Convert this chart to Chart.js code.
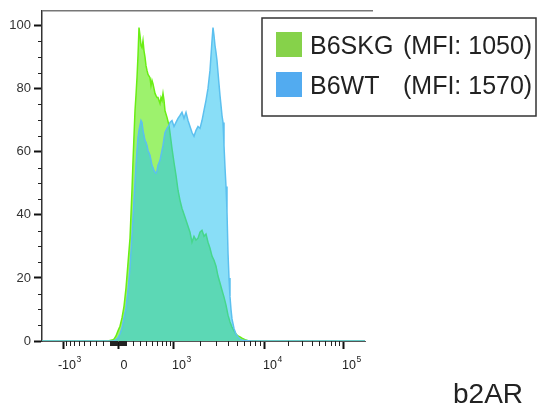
<!DOCTYPE html>
<html>
<head>
<meta charset="utf-8">
<script src="https://cdn.jsdelivr.net/npm/chart.js@4.4.1/dist/chart.umd.min.js"></script>
<style>
  html, body { margin: 0; padding: 0; background: #fff; }
  #chartBox { width: 542px; height: 410px; }
</style>
</head>
<body>
<div id="chartBox"><canvas id="chartCanvas" width="542" height="410"></canvas></div>
<script>
// Histogram bins: display channel on the b2AR axis and % of max
const greenChannels = [0, 66, 70, 72, 74, 76, 78, 80, 82, 84, 86, 88, 90, 91, 92, 93, 94, 95, 96, 97, 98, 99,
    100, 101, 102, 103, 104, 105, 106, 108, 109, 110, 111, 112, 113, 114, 115, 116, 118, 119, 120, 121, 122,
    123, 125, 127, 128, 130, 132, 134, 136, 138, 140, 142, 144, 146, 148, 150, 152, 154, 156, 158, 160, 162,
    164, 166, 168, 170, 172, 174, 176, 178, 180, 182, 184, 186, 188, 190, 192, 194, 196, 198, 200, 202, 204,
    206, 210, 323];
const greenCounts = [0, 0, 0.3, 0.6, 1.6, 3.2, 4.7, 7.3, 11, 16.8, 24.7, 32.6, 48, 57, 65, 73, 78, 83.5, 90.5, 99.4,
    96.8, 93.7, 93, 95.2, 92, 90, 87.3, 85.8, 84.5, 83.5, 81, 82.6, 81.5, 80, 78.5, 77.8, 77.2, 77.2, 75.3, 77.2,
    76.3, 78.5, 76.3, 73, 70.9, 68.4, 66, 61, 56.6, 52.5, 47.8, 44.6, 42, 40.2, 38.3, 36.4, 34.5, 31.3, 33.2, 32,
    32.6, 34.5, 35.1, 33.2, 33.9, 31.3, 29.4, 26.9, 25.6, 23.7, 20.6, 18.4, 16.1, 13.9, 11.4, 8.2, 6, 4.4, 3.2,
    2.2, 1.6, 1.3, 0.9, 0.6, 0.3, 0.1, 0, 0];

const blueChannels = [0, 66, 72, 74, 76, 78, 80, 82, 84, 86, 88, 90, 92, 94, 95, 96, 97, 98, 99, 100, 101, 102,
    103, 104, 105, 106, 108, 109, 110, 111, 112, 113, 114, 115, 116, 118, 119, 120, 121, 122, 123, 125, 127, 128,
    130, 132, 134, 136, 138, 140, 142, 144, 146, 148, 150, 152, 154, 156, 158, 160, 162, 164, 166, 168, 169, 170,
    171, 172, 173, 174, 175, 176, 178, 179, 180, 181, 182, 183, 184, 185, 186, 187, 188, 189, 190, 192, 194, 196,
    198, 200, 202, 206, 210, 323];
const blueCounts = [0, 0, 0.1, 0.4, 1, 2.2, 4.1, 7.3, 10.4, 16.1, 23.1, 33.5, 44.6, 55.7, 60.4, 64.6, 66.8, 68.4,
    69.9, 69.3, 66.8, 65.2, 63.6, 63, 62, 60.4, 58.9, 57.3, 55.7, 55, 54.1, 53.5, 53.2, 54.1, 55.7, 57.3, 58.9,
    60.4, 62, 64.2, 66.1, 67.4, 68.4, 69.3, 69.9, 68, 69.3, 70.6, 71.5, 72.5, 70.6, 72.5, 69.9, 68, 66.1, 64.9,
    66.8, 68, 67.4, 69.9, 73.1, 76.3, 80.1, 85.8, 90.5, 95.2, 99.4, 96.8, 93.7, 91.5, 88.9, 85.1, 77.8, 74.7,
    71.5, 69.3, 62, 55, 49, 41, 28, 20, 14, 10, 7, 4, 2.2, 1.3, 0.6, 0.3, 0.2, 0.1, 0, 0];

// Legend entries
const seriesNames = ['B6SKG', 'B6WT'];
const seriesMfi = [1050, 1570];

// Axis ticks (x labels are base + exponent)
const xMajorValues = [-1000, 0, 1000, 10000, 100000];
const xLabelBases = ['-10', '0', '10', '10', '10'];
const xLabelExps = ['3', '', '3', '4', '5'];
const yMajorValues = [0, 20, 40, 60, 80, 100];
const axisTitle = 'b2AR';

const FONT = "'Liberation Sans', Arial, sans-serif";

// Biexponential-like display transform: raw value -> display channel
function toChannel(v) {
    if (Math.abs(v) <= 1000) {
        return 76 + 55 * Math.asinh(v / 478) / Math.asinh(1000 / 478);
    }
    const lg = Math.log10(v);
    if (lg <= 4) return 131 + (lg - 3) * 91;
    return 222 + (lg - 4) * 79;
}

// Minor tick values for the x axis
function xMinorValues() {
    let out = [];
    for (let i = 1; i <= 9; i++) {
        out.push(i * 10, -i * 10, i * 100, -i * 100);
        if (i > 1) out.push(i * 1000, i * 10000);
    }
    return out;
}

function toPoints(xs, ys) {
    return xs.map((x, i) => ({ x: x, y: ys[i] }));
}

// Plugin: minor ticks, x labels with exponents, top frame line, boxed legend and axis title
const flowDecor = {
    id: 'flowDecor',
    afterDraw(chart) {
        try {
            const ctx = chart.ctx;
            const area = chart.chartArea;
            const xs = chart.scales.x;
            const ys = chart.scales.y;
            ctx.save();

            // top frame line
            ctx.strokeStyle = '#777';
            ctx.lineWidth = 1.5;
            ctx.beginPath();
            ctx.moveTo(area.left, area.top);
            ctx.lineTo(area.right + 8, area.top);
            ctx.stroke();

            // minor ticks
            ctx.strokeStyle = '#222';
            ctx.lineWidth = 1;
            ctx.beginPath();
            xMinorValues().forEach(v => {
                const px = Math.round(xs.getPixelForValue(toChannel(v))) + 0.5;
                if (px < area.left || px > area.right) return;
                ctx.moveTo(px, area.bottom);
                ctx.lineTo(px, area.bottom + 5);
            });
            for (let v = 5; v <= 100; v += 5) {
                if (v % 20 === 0) continue;
                const py = Math.round(ys.getPixelForValue(v)) + 0.5;
                ctx.moveTo(area.left - 4, py);
                ctx.lineTo(area.left, py);
            }
            ctx.stroke();

            // x tick labels: base text then raised exponent
            ctx.fillStyle = '#222';
            ctx.textBaseline = 'alphabetic';
            xMajorValues.forEach((v, i) => {
                const px = xs.getPixelForValue(toChannel(v));
                ctx.font = '12.5px ' + FONT;
                if (xLabelExps[i] === '') {
                    ctx.textAlign = 'center';
                    ctx.fillText(xLabelBases[i], px + 6, area.bottom + 28);
                    return;
                }
                ctx.textAlign = 'right';
                ctx.fillText(xLabelBases[i], px + 13, area.bottom + 28);
                ctx.font = '8.5px ' + FONT;
                ctx.textAlign = 'left';
                ctx.fillText(xLabelExps[i], px + 13.5, area.bottom + 21);
            });
            ctx.textAlign = 'left';

            // legend box
            ctx.strokeStyle = '#333';
            ctx.lineWidth = 1.5;
            ctx.strokeRect(262, 18, 274, 98);
            const swatch = ['#86d24a', '#52abf0'];
            ctx.font = '25px ' + FONT;
            seriesNames.forEach((name, i) => {
                const rowY = 32 + i * 40;
                ctx.fillStyle = swatch[i];
                ctx.fillRect(276, rowY, 26, 25);
                ctx.fillStyle = '#222';
                ctx.fillText(name, 310, rowY + 22);
                ctx.fillText('(MFI: ' + seriesMfi[i] + ')', 403, rowY + 22);
            });

            // axis title
            ctx.font = '28px ' + FONT;
            ctx.fillText(axisTitle, 453, 403);
            ctx.restore();
        } catch (e) {
            console.error(e);
        }
    }
};

const chart = new Chart(document.getElementById('chartCanvas').getContext('2d'), {
    type: 'line',
    data: {
        datasets: [
            {
                label: seriesNames[0],
                data: toPoints(greenChannels, greenCounts),
                borderColor: '#6aee14',
                backgroundColor: 'rgba(105, 235, 30, 0.65)',
                borderWidth: 1.5,
                fill: 'origin',
                pointRadius: 0,
                tension: 0,
                order: 1
            },
            {
                label: seriesNames[1],
                data: toPoints(blueChannels, blueCounts),
                borderColor: '#5cc0ef',
                backgroundColor: 'rgba(40, 195, 240, 0.55)',
                borderWidth: 1.5,
                fill: 'origin',
                pointRadius: 0,
                tension: 0,
                order: 0
            }
        ]
    },
    options: {
        responsive: false,
        animation: false,
        devicePixelRatio: 1,
        layout: { padding: { left: 0, top: 10, right: 177, bottom: 39 } },
        plugins: { legend: { display: false }, tooltip: { enabled: false } },
        scales: {
            x: {
                type: 'linear',
                min: 0,
                max: 323,
                afterBuildTicks: (scale) => {
                    scale.ticks = xMajorValues.map(v => ({ value: toChannel(v) }));
                },
                afterFit: (scale) => { scale.height = 30; },
                ticks: {
                    autoSkip: false,
                    maxRotation: 0,
                    callback: () => ''
                },
                grid: { drawOnChartArea: false, tickLength: 8, tickWidth: 2, tickColor: '#111' },
                border: { color: '#555', width: 1 }
            },
            y: {
                min: 0,
                max: 104.7,
                afterBuildTicks: (scale) => {
                    scale.ticks = yMajorValues.map(v => ({ value: v }));
                },
                afterFit: (scale) => { scale.width = 42; },
                ticks: {
                    padding: 3,
                    color: '#333',
                    font: { family: FONT, size: 13 }
                },
                grid: { drawOnChartArea: false, tickLength: 8, tickWidth: 2, tickColor: '#111' },
                border: { color: '#333', width: 1.5 }
            }
        }
    },
    plugins: [flowDecor]
});
</script>
</body>
</html>
